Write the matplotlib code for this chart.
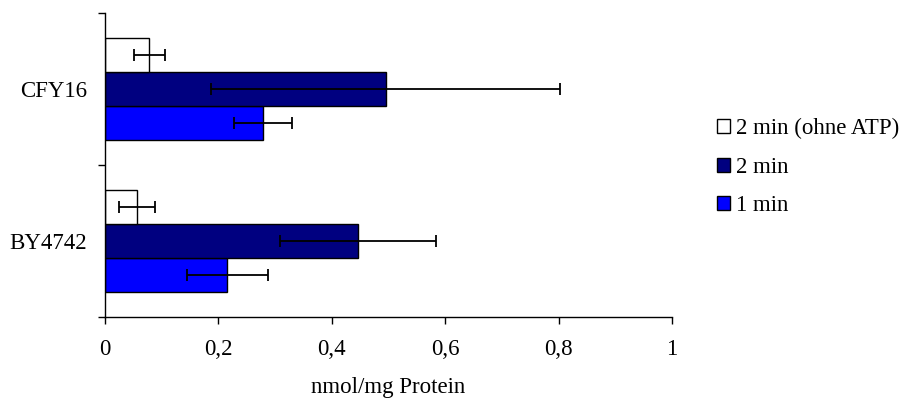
import numpy as np
import matplotlib.pyplot as plt
from matplotlib.ticker import FuncFormatter
from matplotlib.patches import Patch

# data (nmol/mg protein)
strains = ['BY4742', 'CFY16']
series = ['1 min', '2 min', '2 min (ohne ATP)']
colors = ['#0000FF', '#000080', '#FFFFFF']
val_1min = [0.216, 0.279]
err_1min = [0.072, 0.051]
val_2min = [0.446, 0.495]
err_2min = [0.138, 0.308]
val_noatp = [0.057, 0.078]
err_noatp = [0.032, 0.027]

plt.rcParams['font.family'] = ['Liberation Serif', 'DejaVu Serif']
plt.rcParams['font.size'] = 16.5

fig = plt.figure(figsize=(9.14, 4.01), dpi=100)
ax = fig.add_axes([105 / 914, 1 - 317 / 401, 567 / 914, 304 / 401])

y = np.arange(len(strains))
h = 0.225
values = [val_1min, val_2min, val_noatp]
errors = [err_1min, err_2min, err_noatp]
offsets = [-h, 0, h]

for vals, errs, off, col, lab in zip(values, errors, offsets, colors, series):
    ax.barh(y + off, vals, height=h, color=col, edgecolor='black',
            linewidth=1.0, label=lab)
    ax.errorbar(vals, y + off, xerr=errs, fmt='none', ecolor='black',
                elinewidth=1.3, capsize=4.3, capthick=1.3, clip_on=False)

ax.set_xlim(0, 1)
ax.set_ylim(-0.5, 1.5)
ax.set_xticks([0, 0.2, 0.4, 0.6, 0.8, 1.0])
ax.xaxis.set_major_formatter(FuncFormatter(lambda v, p: f'{v:g}'.replace('.', ',')))
ax.set_yticks(y)
ax.set_yticklabels(strains)
ax.set_yticks([-0.5, 0.5, 1.5], minor=True)
ax.tick_params(axis='y', which='major', length=0, pad=13)
ax.tick_params(axis='y', which='minor', length=5, width=1, direction='out')
ax.tick_params(axis='x', length=5, width=1, direction='out', pad=11)

for s in ['top', 'right']:
    ax.spines[s].set_visible(False)
for s in ['left', 'bottom']:
    ax.spines[s].set_linewidth(1)

ax.set_xlabel('nmol/mg Protein', labelpad=12)

handles = [Patch(facecolor=c, edgecolor='black', linewidth=1) for c in colors[::-1]]
fig.legend(handles, series[::-1], loc='upper left', bbox_to_anchor=(717 / 914, 1 - 118 / 401),
           frameon=False, handlelength=0.57, handleheight=0.57, handletextpad=0.28,
           labelspacing=0.77, borderaxespad=0, borderpad=0)

fig.savefig('out.png', dpi=100)
